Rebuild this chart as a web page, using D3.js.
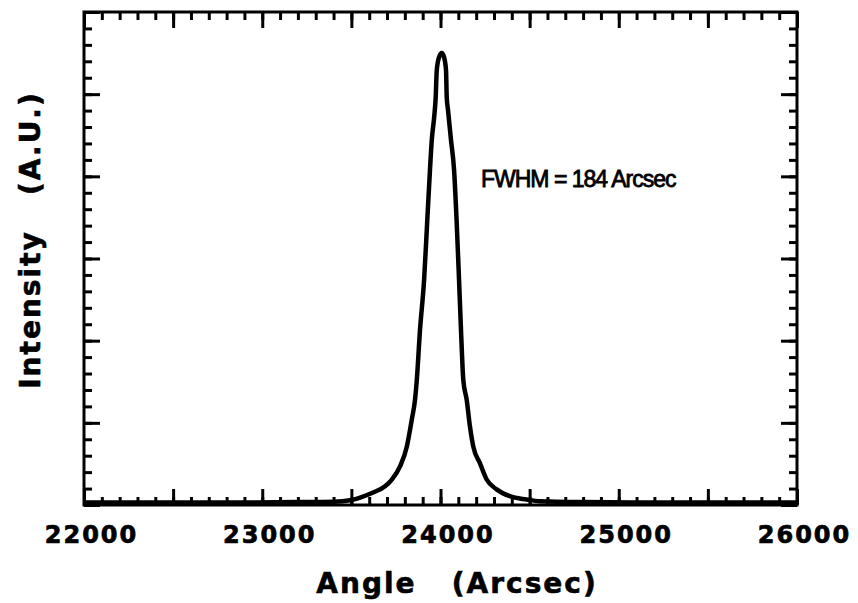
<!DOCTYPE html>
<html>
<head>
<meta charset="utf-8">
<script src="https://cdn.jsdelivr.net/npm/d3@7"></script>
<style>
  body { margin: 0; background: #fff; }
  svg { display: block; }
  .tick line { stroke: #000; stroke-width: 3; }
</style>
</head>
<body>
<svg id="chart" width="858" height="603"></svg>
<script>
// rocking curve (angle in arcsec, intensity in arbitrary units)
const angle = [22000, 22400, 22800, 23200, 23400, 23493, 23549, 23622, 23689, 23727, 23773, 23811, 23839, 23857, 23867,
  23885, 23908, 23925, 23941, 23951, 23964, 23973, 23979, 23992, 24007, 24020, 24031, 24035, 24042, 24059,
  24076, 24091, 24104, 24115, 24128, 24147, 24165, 24184, 24221, 24259, 24315, 24389, 24483, 24557, 24800,
  25200, 25600, 26000];
const intensity = [0.03, 0.03, 0.03, 0.035, 0.04, 0.058, 0.091, 0.152, 0.228, 0.31, 0.47, 0.71, 1.04, 1.28, 1.52,
  2.13, 2.74, 3.43, 4.08, 4.44, 4.71, 4.96, 5.29, 5.45, 5.50, 5.45, 5.29, 4.96, 4.81, 4.44,
  4.08, 3.43, 2.74, 2.13, 1.52, 1.28, 0.96, 0.71, 0.51, 0.31, 0.19, 0.107, 0.067, 0.046, 0.035,
  0.03, 0.03, 0.03];
const xTickLabels = [22000, 23000, 24000, 25000, 26000];
const xMinor = d3.range(22000, 26001, 100);
const xMajor = d3.range(22000, 26001, 500);
const yMinor = d3.range(0, 6.01, 0.2);
const yMajor = d3.range(0, 6.01, 1);
const annotation = 'FWHM = 184 Arcsec';
const xTitle = 'Angle   (Arcsec)';
const yTitle = 'Intensity   (A.U.)';

const data = angle.map((a, i) => ({ angle: a, intensity: intensity[i] }));

const plot = { left: 84, right: 797, top: 12, bottom: 505 };

const svg = d3.select('#chart');

const x = d3.scaleLinear()
  .domain([22000, 26000])
  .range([plot.left, plot.right]);

const y = d3.scaleLinear()
  .domain([0, 6])
  .range([plot.bottom, plot.top]);

const boldFont = 'DejaVu Sans, sans-serif';

// ticks point inward on all four sides
function addAxis(axis, transform) {
  const g = svg.append('g')
    .attr('transform', transform)
    .call(axis);
  g.select('.domain').remove();
  return g;
}

addAxis(d3.axisBottom(x).tickValues(xMinor).tickSize(-8).tickFormat(''), `translate(0,${plot.bottom})`);
addAxis(d3.axisBottom(x).tickValues(xMajor).tickSize(-16).tickFormat(''), `translate(0,${plot.bottom})`);
addAxis(d3.axisTop(x).tickValues(xMinor).tickSize(-8).tickFormat(''), `translate(0,${plot.top})`);
addAxis(d3.axisTop(x).tickValues(xMajor).tickSize(-16).tickFormat(''), `translate(0,${plot.top})`);
addAxis(d3.axisLeft(y).tickValues(yMinor).tickSize(-8).tickFormat(''), `translate(${plot.left},0)`);
addAxis(d3.axisLeft(y).tickValues(yMajor).tickSize(-16).tickFormat(''), `translate(${plot.left},0)`);
addAxis(d3.axisRight(y).tickValues(yMinor).tickSize(-8).tickFormat(''), `translate(${plot.right},0)`);
addAxis(d3.axisRight(y).tickValues(yMajor).tickSize(-16).tickFormat(''), `translate(${plot.right},0)`);

const labels = addAxis(d3.axisBottom(x).tickValues(xTickLabels).tickSize(0).tickFormat(d3.format('d')), `translate(0,${plot.bottom})`);
labels.selectAll('text')
  .attr('y', 38)
  .attr('dy', 0)
  .attr('x', 7)
  .attr('fill', '#000')
  .style('font-family', boldFont)
  .style('font-weight', 'bold')
  .style('font-size', '24px')
  .style('letter-spacing', '2px')
  .style('stroke', '#000')
  .style('stroke-width', 0.7);

// frame
svg.append('rect')
  .attr('x', plot.left)
  .attr('y', plot.top)
  .attr('width', plot.right - plot.left)
  .attr('height', plot.bottom - plot.top)
  .attr('fill', 'none')
  .attr('stroke', '#000')
  .attr('stroke-width', 3);

const line = d3.line()
  .curve(d3.curveMonotoneX)
  .x(d => x(d.angle))
  .y(d => y(d.intensity));

svg.append('path')
  .datum(data)
  .attr('fill', 'none')
  .attr('stroke', '#000')
  .attr('stroke-width', 4.5)
  .attr('stroke-linejoin', 'round')
  .attr('d', line);

svg.append('text')
  .attr('x', 481)
  .attr('y', 187)
  .style('font-family', 'Liberation Sans, Arial, sans-serif')
  .style('font-size', '23px')
  .style('letter-spacing', '-1px')
  .style('stroke', '#000')
  .style('stroke-width', 0.8)
  .text(annotation);

svg.append('text')
  .attr('x', 457)
  .attr('y', 593)
  .attr('text-anchor', 'middle')
  .style('white-space', 'pre')
  .style('font-family', boldFont)
  .style('font-weight', 'bold')
  .style('font-size', '28px')
  .style('letter-spacing', '2px')
  .style('stroke', '#000')
  .style('stroke-width', 0.6)
  .text(xTitle);

svg.append('text')
  .attr('transform', 'translate(40,240) rotate(-90)')
  .attr('text-anchor', 'middle')
  .style('white-space', 'pre')
  .style('font-family', boldFont)
  .style('font-weight', 'bold')
  .style('font-size', '28px')
  .style('letter-spacing', '2px')
  .style('stroke', '#000')
  .style('stroke-width', 0.6)
  .text(yTitle);
</script>
</body>
</html>
